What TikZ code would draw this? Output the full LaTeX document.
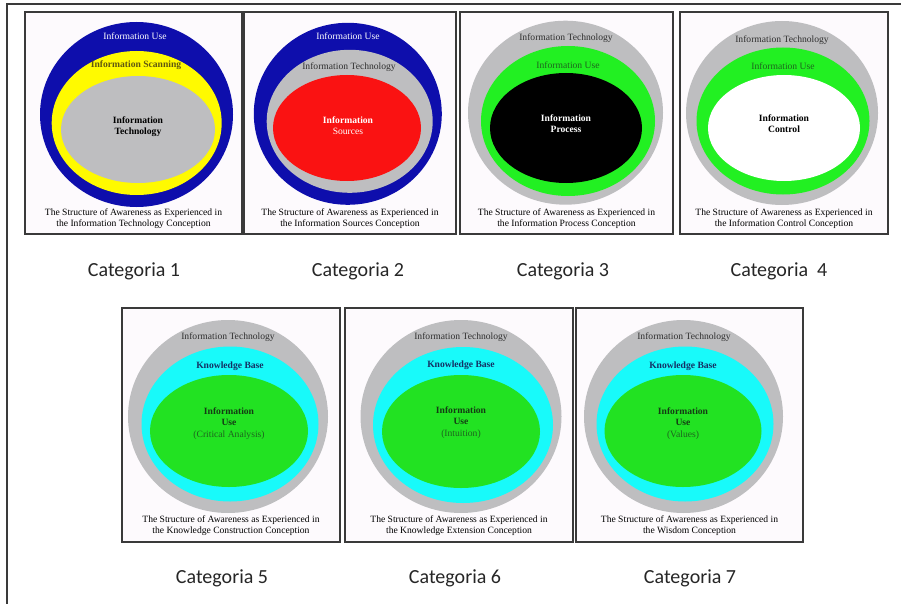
\documentclass[tikz,border=0pt]{standalone}
\usepackage{fontspec}
\setmainfont{Liberation Serif}
\newfontfamily\catfont{Carlito}
\usetikzlibrary{shapes.geometric}

\definecolor{ringblue}{RGB}{14,14,172}
\definecolor{ringgray}{RGB}{190,190,192}
\definecolor{ringyellow}{RGB}{255,250,0}
\definecolor{corered}{RGB}{250,18,18}
\definecolor{ringgreen}{RGB}{34,240,34}
\definecolor{ringcyan}{RGB}{24,250,250}
\definecolor{coregreen}{RGB}{34,226,34}
\definecolor{panelbg}{RGB}{253,250,253}
\definecolor{frameline}{RGB}{58,58,58}
\definecolor{olivetext}{RGB}{96,88,16}
\definecolor{greytext}{RGB}{48,48,48}
\definecolor{greentext}{RGB}{30,100,30}
\definecolor{bluetext}{RGB}{20,48,100}
\definecolor{darkgreentext}{RGB}{20,60,20}

\begin{document}
\begin{tikzpicture}[x=1pt,y=-1pt,
  panel/.style={draw=frameline, line width=1.3pt, fill=panelbg, rectangle, inner sep=0pt},
  disc/.style={ellipse, inner sep=0pt},
  lbl/.style={inner sep=0pt, align=center, font=\fontsize{9.6}{11}\selectfont},
  boldlbl/.style={lbl, font=\fontsize{9.6}{11}\selectfont\bfseries},
  caption/.style={inner sep=0pt, align=center, text=black, font=\fontsize{9.6}{11}\selectfont},
  category/.style={inner sep=0pt, text=black!85, font=\catfont\fontsize{20}{23}\selectfont}]

\useasboundingbox (0,0) rectangle (901,604);
\fill[white] (0,0) rectangle (901,604);

% outer frame (only its top and left edges lie inside the page)
\coordinate (fbl) at (7,604);
\coordinate (ftl) at (7,4);
\coordinate (ftr) at (901,4);
\draw[frameline, line width=1.2pt] (fbl) -- (ftl) -- (ftr);

% ---------- Categoria 1: Information Technology Conception ----------
\node[panel, minimum width=217pt, minimum height=222pt] (p1) at (133.5,123) {};
\node[disc, fill=ringblue,   minimum width=193pt, minimum height=185pt] (p1a) at (136.5,114.5) {};
\node[disc, fill=ringyellow, minimum width=170pt, minimum height=144pt] (p1b) at (136.7,123) {};
\node[disc, fill=ringgray,   minimum width=154pt, minimum height=107pt] (p1c) at (138,129.5) {};
\node[lbl, text=white] (p1t1) at (135,36) {Information Use};
\node[boldlbl, text=olivetext] (p1t2) at (136,65) {Information Scanning};
\node[boldlbl, text=black] (p1t3) at (138,126.5) {Information\\Technology};
\node[caption] (p1cap) at (133.5,218.5) {The Structure of Awareness as Experienced in\\the Information Technology Conception};
\node[category] (c1) at (134,271) {Categoria 1};

% ---------- Categoria 2: Information Sources Conception ----------
\node[panel, minimum width=212pt, minimum height=222pt] (p2) at (350,123) {};
\node[disc, fill=ringblue, minimum width=188pt, minimum height=182pt] (p2a) at (347.8,113.8) {};
\node[disc, fill=ringgray, minimum width=166pt, minimum height=143pt] (p2b) at (349.7,121.3) {};
\node[disc, fill=corered,  minimum width=148pt, minimum height=106pt] (p2c) at (347,128) {};
\node[lbl, text=white] (p2t1) at (348,36) {Information Use};
\node[lbl, text=greytext] (p2t2) at (349,67) {Information Technology};
\node[lbl, text=white] (p2t3) at (348,125.5) {\textbf{Information}\\Sources};
\node[caption] (p2cap) at (350,218.5) {The Structure of Awareness as Experienced in\\the Information Sources Conception};
\node[category] (c2) at (358,271) {Categoria 2};

% ---------- Categoria 3: Information Process Conception ----------
\node[panel, minimum width=213pt, minimum height=222pt] (p3) at (566.5,123) {};
\node[disc, fill=ringgray,  minimum width=195pt, minimum height=184pt] (p3a) at (565.5,112.7) {};
\node[disc, fill=ringgreen, minimum width=174pt, minimum height=150pt] (p3b) at (568,121) {};
\node[disc, fill=black,     minimum width=152pt, minimum height=110pt] (p3c) at (566,128) {};
\node[lbl, text=greytext] (p3t1) at (566,38) {Information Technology};
\node[lbl, text=greentext] (p3t2) at (568,65) {Information Use};
\node[boldlbl, text=white] (p3t3) at (566,123.5) {Information\\Process};
\node[caption] (p3cap) at (566.5,218.5) {The Structure of Awareness as Experienced in\\the Information Process Conception};
\node[category] (c3) at (563,271) {Categoria 3};

% ---------- Categoria 4: Information Control Conception ----------
\node[panel, minimum width=208pt, minimum height=222pt] (p4) at (784,123) {};
\node[disc, fill=ringgray,  minimum width=192pt, minimum height=184pt] (p4a) at (782,113) {};
\node[disc, fill=ringgreen, minimum width=173pt, minimum height=147pt] (p4b) at (783,121) {};
\node[disc, fill=white,     minimum width=152pt, minimum height=106pt] (p4c) at (784,128) {};
\node[lbl, text=greytext] (p4t1) at (782,40) {Information Technology};
\node[lbl, text=greentext] (p4t2) at (783,66) {Information Use};
\node[boldlbl, text=black] (p4t3) at (784,123.5) {Information\\Control};
\node[caption] (p4cap) at (784,218.5) {The Structure of Awareness as Experienced in\\the Information Control Conception};
\node[category] (c4) at (779,271) {Categoria\ \ 4};

% ---------- Categoria 5: Knowledge Construction Conception ----------
\node[panel, minimum width=218pt, minimum height=234pt] (p5) at (231,425) {};
\node[disc, fill=ringgray,  minimum width=200pt, minimum height=193pt] (p5a) at (228,416.5) {};
\node[disc, fill=ringcyan,  minimum width=177pt, minimum height=155pt] (p5b) at (230,424) {};
\node[disc, fill=coregreen, minimum width=158pt, minimum height=112pt] (p5c) at (229,431) {};
\node[lbl, text=greytext] (p5t1) at (228,337) {Information Technology};
\node[boldlbl, text=bluetext] (p5t2) at (230,366) {Knowledge Base};
\node[lbl, text=darkgreentext] (p5t3) at (229,423.5) {\textbf{Information}\\\textbf{Use}\\[1pt]{\color{greentext}(Critical Analysis)}};
\node[caption] (p5cap) at (231,526) {The Structure of Awareness as Experienced in\\the Knowledge Construction Conception};
\node[category] (c5) at (222,578) {Categoria 5};

% ---------- Categoria 6: Knowledge Extension Conception ----------
\node[panel, minimum width=228pt, minimum height=234pt] (p6) at (459,425) {};
\node[disc, fill=ringgray,  minimum width=201pt, minimum height=193pt] (p6a) at (461,416.5) {};
\node[disc, fill=ringcyan,  minimum width=180pt, minimum height=156pt] (p6b) at (463,425) {};
\node[disc, fill=coregreen, minimum width=158pt, minimum height=113pt] (p6c) at (461,431.5) {};
\node[lbl, text=greytext] (p6t1) at (461,337) {Information Technology};
\node[boldlbl, text=bluetext] (p6t2) at (461,365) {Knowledge Base};
\node[lbl, text=darkgreentext] (p6t3) at (461,422.5) {\textbf{Information}\\\textbf{Use}\\[1pt]{\color{greentext}(Intuition)}};
\node[caption] (p6cap) at (459,526) {The Structure of Awareness as Experienced in\\the Knowledge Extension Conception};
\node[category] (c6) at (455,578) {Categoria 6};

% ---------- Categoria 7: Wisdom Conception ----------
\node[panel, minimum width=227pt, minimum height=234pt] (p7) at (689.5,425) {};
\node[disc, fill=ringgray,  minimum width=199pt, minimum height=193pt] (p7a) at (683.5,416.5) {};
\node[disc, fill=ringcyan,  minimum width=177pt, minimum height=155pt] (p7b) at (685,424) {};
\node[disc, fill=coregreen, minimum width=157pt, minimum height=112pt] (p7c) at (683,431) {};
\node[lbl, text=greytext] (p7t1) at (684,337) {Information Technology};
\node[boldlbl, text=bluetext] (p7t2) at (683,366) {Knowledge Base};
\node[lbl, text=darkgreentext] (p7t3) at (683,423.5) {\textbf{Information}\\\textbf{Use}\\[1pt]{\color{greentext}(Values)}};
\node[caption] (p7cap) at (689.5,526) {The Structure of Awareness as Experienced in\\the Wisdom Conception};
\node[category] (c7) at (690,578) {Categoria 7};

\end{tikzpicture}
\end{document}
